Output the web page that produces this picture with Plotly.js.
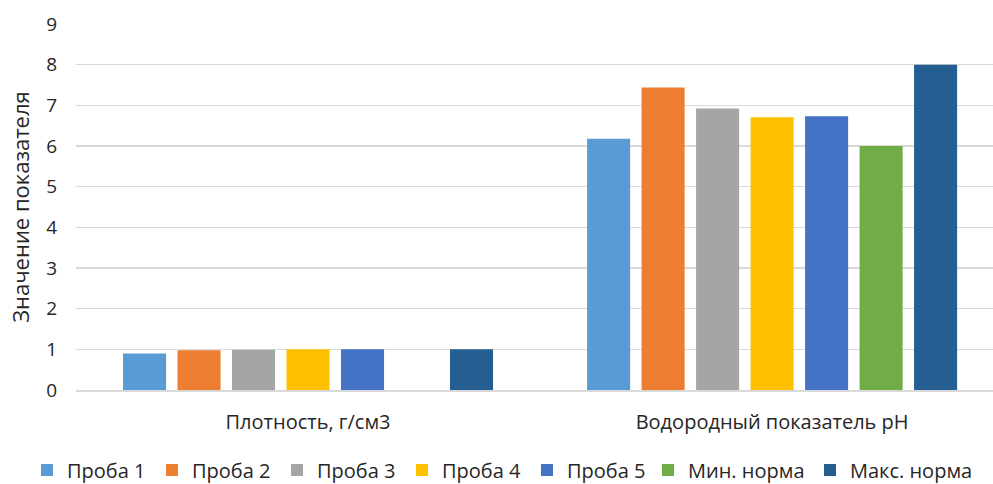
<!DOCTYPE html>
<html>
<head>
<meta charset="utf-8">
<script src="https://cdn.plot.ly/plotly-3.0.1.min.js"></script>
<style>html,body{margin:0;padding:0;background:#fff;}#chart{width:993px;height:484px;}</style>
</head>
<body>
<div id="chart"></div>
<script>
var categories = ["Плотность, г/см3", "Водородный показатель рН"];
var seriesNames = ["Проба 1", "Проба 2", "Проба 3", "Проба 4", "Проба 5", "Мин. норма", "Макс. норма"];
var proba1 = [0.9, 6.18];
var proba2 = [0.98, 7.44];
var proba3 = [0.99, 6.92];
var proba4 = [1.0, 6.71];
var proba5 = [1.0, 6.73];
var minNorm = [null, 6.0];
var maxNorm = [1.0, 8.0];
var seriesValues = [proba1, proba2, proba3, proba4, proba5, minNorm, maxNorm];
var colors = ["#5B9BD5", "#ED7D31", "#A5A5A5", "#FFC000", "#4472C4", "#70AD47", "#255E91"];
var yTicks = [0,1,2,3,4,5,6,7,8,9];

var fontFam = "Open Sans, Noto Sans, sans-serif";
var traces = seriesNames.map(function(n, i){
  return {type:"bar", name:n, x:categories, y:seriesValues[i],
    legend: i < 5 ? "legend" : "legend2",
    marker:{color:colors[i], line:{width:0}}, hoverinfo:"y"};
});
var legFont = {size:20, color:"#262626", family:fontFam};
var layout = {
  width:993, height:484,
  margin:{l:76, r:0, t:24, b:94, autoexpand:false},
  paper_bgcolor:"#fff", plot_bgcolor:"#fff",
  barmode:"group", bargap:0.178, bargroupgap:0.21,
  font:{family:fontFam, color:"#262626", size:19},
  xaxis:{type:"category", range:[-0.5, 1.476], showgrid:false, zeroline:false, showline:true, linecolor:"#d9d9d9", linewidth:1.5,
    ticks:"", tickfont:{size:20, color:"#262626", family:fontFam}, ticklabelstandoff:13, automargin:false},
  yaxis:{range:[0,9], tickvals:yTicks, ticktext:yTicks.map(String), showgrid:true, gridcolor:"#d9d9d9", gridwidth:1.5,
    zeroline:false, showline:false, ticks:"", tickfont:{size:19, color:"#262626", family:fontFam}, ticklabelstandoff:18,
    automargin:false,
    title:{text:"Значение показателя", font:{size:22, color:"#262626", family:fontFam}, standoff:10}},
  legend:{orientation:"h", xref:"container", x:27/993, xanchor:"left", yref:"container", y:0.029, yanchor:"middle",
    font:legFont, entrywidth:80, entrywidthmode:"pixels", itemwidth:30, tracegroupgap:0, traceorder:"normal"},
  legend2:{orientation:"h", xref:"container", x:648/993, xanchor:"left", yref:"container", y:0.029, yanchor:"middle",
    font:legFont, entrywidth:117, entrywidthmode:"pixels", itemwidth:30, tracegroupgap:0, traceorder:"normal"},
  showlegend:true
};
Plotly.newPlot("chart", traces, layout, {displayModeBar:false, staticPlot:true});
</script>
</body>
</html>
